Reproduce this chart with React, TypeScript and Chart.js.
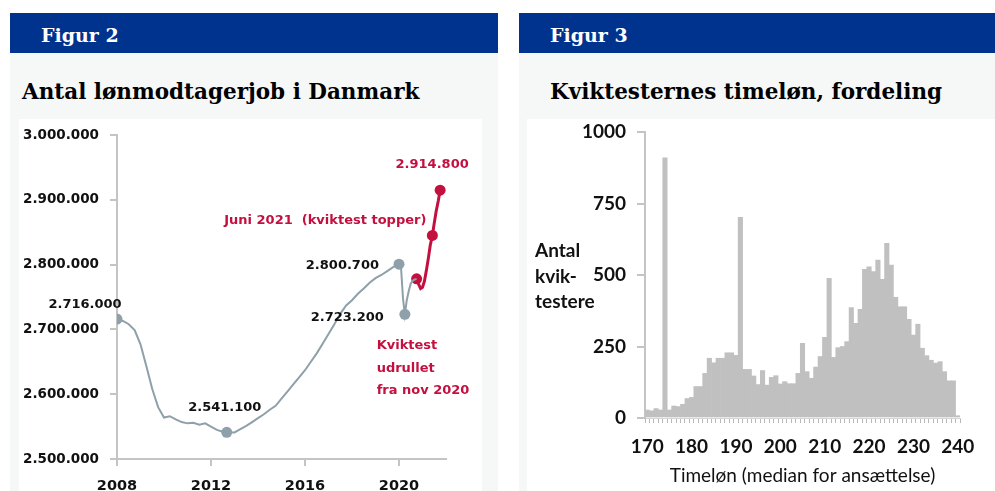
import React, { useEffect, useRef } from 'react';
import { Chart, registerables } from 'chart.js';
Chart.register(...registerables);

// ---------- Figur 2 data ----------
const grayYears = [2008.0, 2008.25, 2008.5, 2008.75, 2009.0, 2009.25, 2009.5, 2009.75, 2010.0, 2010.25, 2010.5, 2010.75, 2011.0, 2011.25, 2011.5, 2011.75, 2012.0, 2012.25, 2012.5, 2012.67, 2013.0, 2013.25, 2013.5, 2013.75, 2014.0, 2014.25, 2014.5, 2014.75, 2015.0, 2015.25, 2015.5, 2015.75, 2016.0, 2016.25, 2016.5, 2016.75, 2017.0, 2017.25, 2017.5, 2017.75, 2018.0, 2018.25, 2018.5, 2018.75, 2019.0, 2019.25, 2019.5, 2019.75, 2020.0, 2020.08, 2020.17, 2020.25, 2020.33, 2020.42, 2020.5, 2020.58, 2020.67, 2020.75];
const grayValues = [2716000, 2713000, 2708000, 2699000, 2677000, 2643000, 2608000, 2580000, 2564000, 2566000, 2561000, 2557000, 2555000, 2556000, 2553000, 2555000, 2550000, 2545000, 2542000, 2541100, 2541000, 2546000, 2551000, 2557000, 2563000, 2569000, 2576000, 2582000, 2593000, 2604000, 2615000, 2626000, 2637000, 2650000, 2663000, 2678000, 2693000, 2708000, 2724000, 2737000, 2745000, 2755000, 2763000, 2772000, 2779000, 2784000, 2790000, 2796000, 2800700, 2799000, 2748000, 2723200, 2745000, 2760000, 2771000, 2775000, 2777000, 2778000];
const redYears = [2020.75, 2020.83, 2020.92, 2021.0, 2021.08, 2021.17, 2021.25, 2021.33, 2021.42, 2021.5, 2021.58, 2021.67, 2021.75];
const redValues = [2778000, 2770000, 2763000, 2765000, 2774000, 2792000, 2810000, 2830000, 2845000, 2864000, 2882000, 2898000, 2914800];
const grayMarkerYears = [2008.0, 2012.67, 2020.0, 2020.25];
const grayMarkerValues = [2716000, 2541100, 2800700, 2723200];
const redMarkerYears = [2020.75, 2021.42, 2021.75];
const redMarkerValues = [2778000, 2845000, 2914800];
const leftYTicks = [2500000, 2600000, 2700000, 2800000, 2900000, 3000000];
const leftXTicks = [2008, 2012, 2016, 2020];

// ---------- Figur 3 data ----------
const wageBins = [170, 171, 172, 173, 174, 175, 176, 177, 178, 179, 180, 181, 182, 183, 184, 185, 186, 187, 188, 189, 190, 191, 192, 193, 194, 195, 196, 197, 198, 199, 200, 201, 202, 203, 204, 205, 206, 207, 208, 209, 210, 211, 212, 213, 214, 215, 216, 217, 218, 219, 220, 221, 222, 223, 224, 225, 226, 227, 228, 229, 230, 231, 232, 233, 234, 235, 236, 237, 238, 239, 240];
const wageCounts = [28, 25, 33, 28, 910, 28, 42, 40, 48, 68, 72, 110, 110, 156, 209, 193, 209, 209, 228, 228, 219, 702, 170, 170, 147, 117, 166, 115, 142, 148, 119, 127, 120, 120, 156, 261, 162, 139, 178, 215, 282, 488, 212, 246, 250, 267, 386, 331, 380, 520, 529, 512, 552, 485, 611, 535, 422, 389, 389, 345, 290, 328, 244, 218, 202, 192, 197, 162, 130, 130, 8];
const rightYTicks = [0, 250, 500, 750, 1000];

const GRAY_LINE = '#8ea0a9';
const RED = '#c3103f';
const AXIS = '#c4c4c4';

const leftLabels = [
  { lines: ['2.716.000'], year: 2008.0, value: 2716000, dx: -32, dy: -14, align: 'center', color: '#111' },
  { lines: ['2.541.100'], year: 2012.67, value: 2541100, dx: -2, dy: -25, align: 'center', color: '#111' },
  { lines: ['2.800.700'], year: 2020.0, value: 2800700, dx: -20, dy: 1.5, align: 'right', color: '#111' },
  { lines: ['2.723.200'], year: 2020.25, value: 2723200, dx: -21, dy: 3, align: 'right', color: '#111' },
  { lines: ['2.914.800'], year: 2021.75, value: 2914800, dx: -8, dy: -26, align: 'center', color: RED },
  { lines: ['Juni 2021  (kviktest topper)'], year: 2021.42, value: 2845000, dx: -6, dy: -15, align: 'right', color: RED },
  { lines: ['Kviktest', 'udrullet', 'fra nov 2020'], year: 2020.75, value: 2778000, dx: -40, dy: 67, align: 'left', color: RED },
];

const rightSideLabel = ['Antal', 'kvik-', 'testere'];

const fmtDots = (v: number) => String(Math.round(v)).replace(/\B(?=(\d{3})+(?!\d))/g, '.');

const zeroPad = (s: any) => { s.paddingTop = 0; s.paddingBottom = 0; s.paddingLeft = 0; s.paddingRight = 0; };

function LeftChart() {
  const ref = useRef<HTMLCanvasElement>(null);
  useEffect(() => {
    const annot = {
      id: 'leftAnnot',
      afterDatasetsDraw(chart: any) {
        const { ctx, scales } = chart;
        ctx.save();
        ctx.font = 'bold 13px "DejaVu Sans"';
        ctx.textBaseline = 'middle';
        for (const a of leftLabels) {
          const px = scales.x.getPixelForValue(a.year) + a.dx;
          const py = scales.y.getPixelForValue(a.value) + a.dy;
          ctx.fillStyle = a.color;
          ctx.textAlign = a.align;
          a.lines.forEach((t, i) => ctx.fillText(t, px, py + i * 22.5));
        }
        ctx.restore();
      },
    };
    const chart = new Chart(ref.current!, {
      type: 'line',
      data: {
        datasets: [
          {
            data: grayYears.map((x, i) => ({ x, y: grayValues[i] })),
            borderColor: GRAY_LINE, borderWidth: 2, pointRadius: 0, tension: 0,
          },
          {
            data: redYears.map((x, i) => ({ x, y: redValues[i] })),
            borderColor: RED, borderWidth: 3, pointRadius: 0, tension: 0,
          },
          {
            data: grayMarkerYears.map((x, i) => ({ x, y: grayMarkerValues[i] })),
            showLine: false, pointRadius: 5.5, pointBackgroundColor: GRAY_LINE, pointBorderWidth: 0,
          },
          {
            data: redMarkerYears.map((x, i) => ({ x, y: redMarkerValues[i] })),
            showLine: false, pointRadius: 5.5, pointBackgroundColor: RED, pointBorderWidth: 0,
          },
        ],
      },
      options: {
        responsive: false,
        animation: false,
        layout: { autoPadding: false, padding: { top: 16, right: 36, left: 0, bottom: 0 } },
        plugins: { legend: { display: false }, tooltip: { enabled: false } },
        scales: {
          x: {
            type: 'linear', min: 2008, max: 2022,
            afterBuildTicks: (s: any) => { s.ticks = leftXTicks.map((v) => ({ value: v })); },
            afterFit: (s: any) => { s.height = 32; zeroPad(s); },
            border: { color: AXIS, width: 2 },
            grid: { drawOnChartArea: false, color: AXIS, tickLength: 7, lineWidth: 2 },
            ticks: { color: '#111', font: { family: 'DejaVu Sans', weight: 'bold', size: 14.5 }, padding: 12, maxRotation: 0, callback: (v: any) => String(v) },
          },
          y: {
            min: 2500000, max: 3000000,
            afterBuildTicks: (s: any) => { s.ticks = leftYTicks.map((v) => ({ value: v })); },
            afterFit: (s: any) => { s.width = 98; zeroPad(s); },
            border: { color: AXIS, width: 2 },
            grid: { drawOnChartArea: false, color: AXIS, tickLength: 7, lineWidth: 2 },
            ticks: { color: '#111', font: { family: 'DejaVu Sans', weight: 'bold', size: 13.5 }, padding: 11, callback: (v: any) => fmtDots(v) },
          },
        },
      },
      plugins: [annot],
    } as any);
    return () => chart.destroy();
  }, []);
  return <canvas ref={ref} width={463} height={372} style={{ position: 'absolute', left: 19, top: 119, width: 463, height: 372 }} />;
}

function RightChart() {
  const ref = useRef<HTMLCanvasElement>(null);
  useEffect(() => {
    const side = {
      id: 'sideLabel',
      afterDraw(chart: any) {
        const { ctx } = chart;
        ctx.save();
        ctx.font = 'bold 19px Lato';
        ctx.fillStyle = '#111';
        ctx.textAlign = 'left';
        ctx.textBaseline = 'alphabetic';
        rightSideLabel.forEach((t, i) => ctx.fillText(t, 8, 138 + i * 25.5));
        ctx.restore();
      },
    };
    const chart = new Chart(ref.current!, {
      type: 'bar',
      data: {
        labels: wageBins.map(String),
        datasets: [
          { data: wageCounts, backgroundColor: '#c0c0c0', borderWidth: 0, barPercentage: 1, categoryPercentage: 1 },
        ],
      },
      options: {
        responsive: false,
        animation: false,
        layout: { autoPadding: false, padding: { top: 13, right: 35, left: 0, bottom: 0 } },
        plugins: { legend: { display: false }, tooltip: { enabled: false } },
        scales: {
          x: {
            afterFit: (s: any) => { s.height = 73; zeroPad(s); },
            border: { color: '#d6d6d6', width: 1 },
            grid: { drawOnChartArea: false, color: '#b8b8b8', tickLength: 5, lineWidth: 1 },
            ticks: {
              autoSkip: false, maxRotation: 0, minRotation: 0, padding: 12,
              color: '#111', font: { family: 'Lato', weight: 'bold', size: 19 },
              callback: (_v: any, i: number) => (wageBins[i] % 10 === 0 ? String(wageBins[i]) : ''),
            },
            title: { display: true, text: 'Timeløn (median for ansættelse)', color: '#111', font: { family: 'Lato', size: 19 }, padding: { top: 0, bottom: 4 } },
          },
          y: {
            min: 0, max: 1000,
            afterBuildTicks: (s: any) => { s.ticks = rightYTicks.map((v) => ({ value: v })); },
            afterFit: (s: any) => { s.width = 118; zeroPad(s); },
            border: { color: AXIS, width: 2 },
            grid: { drawOnChartArea: false, color: AXIS, tickLength: 8, lineWidth: 2 },
            ticks: { color: '#111', font: { family: 'Lato', weight: 'bold', size: 19 }, padding: 11, callback: (v: any) => String(v) },
          },
        },
      },
      plugins: [side],
    } as any);
    return () => chart.destroy();
  }, []);
  return <canvas ref={ref} width={468} height={372} style={{ position: 'absolute', left: 527, top: 119, width: 468, height: 372 }} />;
}

const headFont = '"DejaVu Serif", serif';

export default function App() {
  return (
    <div style={{ position: 'absolute', left: 0, top: 0, width: 995, height: 491, overflow: 'hidden', background: '#fff' }}>
      {/* left panel */}
      <div style={{ position: 'absolute', left: 10, top: 13, width: 488, height: 40, background: '#00338d' }} />
      <div style={{ position: 'absolute', left: 10, top: 53, width: 488, height: 438, background: '#f6f8f8' }} />
      <div style={{ position: 'absolute', left: 19, top: 119, width: 463, height: 372, background: '#fff' }} />
      <div style={{ position: 'absolute', left: 41, top: 24, font: `bold 19px ${headFont}`, color: '#fff', whiteSpace: 'nowrap', lineHeight: 'normal' }}>Figur 2</div>
      <div style={{ position: 'absolute', left: 22, top: 79, font: `bold 21.5px ${headFont}`, color: '#000', whiteSpace: 'nowrap', lineHeight: 'normal' }}>Antal lønmodtagerjob i Danmark</div>
      <LeftChart />
      {/* right panel */}
      <div style={{ position: 'absolute', left: 519, top: 13, width: 476, height: 40, background: '#00338d' }} />
      <div style={{ position: 'absolute', left: 519, top: 53, width: 476, height: 438, background: '#f6f8f8' }} />
      <div style={{ position: 'absolute', left: 527, top: 119, width: 468, height: 372, background: '#fff' }} />
      <div style={{ position: 'absolute', left: 550, top: 24, font: `bold 19px ${headFont}`, color: '#fff', whiteSpace: 'nowrap', lineHeight: 'normal' }}>Figur 3</div>
      <div style={{ position: 'absolute', left: 550, top: 79, font: `bold 21.5px ${headFont}`, color: '#000', whiteSpace: 'nowrap', lineHeight: 'normal' }}>Kviktesternes timeløn, fordeling</div>
      <RightChart />
    </div>
  );
}
